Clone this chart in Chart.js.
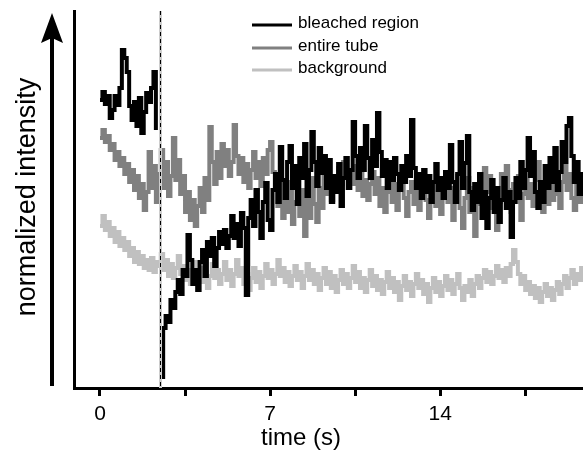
<!DOCTYPE html>
<html><head><meta charset="utf-8">
<script src="https://cdn.jsdelivr.net/npm/chart.js@4/dist/chart.umd.min.js"></script>
<style>html,body{margin:0;padding:0;background:#fff}#wrap{width:583px;height:452px;position:relative}</style>
</head><body><div id="wrap"><canvas id="c" width="583" height="452"></canvas></div>
<script>
// ---- data ----
const sampleInterval = 0.1;           // s between frames
const bleachTime = 2.45;              // s, dashed marker
const xTicks = [0, 3.5, 7, 10.5, 14, 17.5];
const labeledTicks = [0, 7, 14];
const seriesNames = ['bleached region', 'entire tube', 'background'];
const seriesColors = ['#000000', '#808080', '#c0c0c0'];
const xTitle = 'time (s)';
const yTitle = 'normalized intensity';

const bleached = [
  288,296,284,292,270,278,292,283,300,338,
  330,316,282,268,286,262,290,255,276,295,
  286,300,316,258,null,11,60,72,66,88,
  80,96,108,94,118,112,153,128,104,118,
  98,126,138,112,146,132,150,122,140,156,
  144,158,140,152,172,150,164,142,175,160,
  93,170,188,162,198,176,150,186,205,168,
  158,198,214,186,241,208,190,226,242,200,
  222,184,230,210,244,192,218,256,226,202,
  240,215,232,200,228,186,212,196,224,182,
  210,230,200,218,266,232,210,240,218,262,
  230,210,248,222,275,236,212,228,200,226,
  208,230,214,198,222,206,232,212,268,220,
  200,214,190,218,196,212,186,206,224,198,
  210,190,216,200,243,206,186,214,246,200,
  225,252,196,178,204,186,214,170,196,160,
  190,208,176,200,166,188,210,180,196,151,
  186,210,190,226,200,218,250,212,236,196,
  180,206,186,222,200,230,206,240,198,216,
  246,226,262,270,232,206,226,194,214,200
];
const entireTube = [
  250,258,246,252,238,244,228,236,222,230,
  214,224,206,218,198,212,190,204,178,196,
  236,200,222,186,214,238,200,226,192,212,
  250,208,228,194,212,176,196,168,188,162,
  182,200,176,210,188,261,226,204,236,210,
  244,222,238,212,226,263,232,214,230,206,
  224,200,218,236,210,226,202,230,214,238,
  246,216,200,182,204,170,196,176,206,164,
  186,208,172,198,152,190,170,210,184,166,
  200,180,214,194,206,188,212,198,220,204,
  226,210,200,218,204,222,198,214,192,208,
  188,204,216,194,210,182,200,176,196,212,
  186,204,178,198,214,190,172,196,206,184,
  200,178,194,212,188,170,192,206,182,198,
  174,190,208,186,200,168,192,212,180,160,
  190,210,176,200,152,184,206,188,220,196,
  212,180,200,158,186,214,192,222,198,176,
  204,186,212,168,194,218,190,204,182,208,
  226,196,176,200,184,210,188,212,194,180,
  206,222,198,214,190,178,204,186,210,196
];
const background = [
  162,172,158,166,152,160,146,156,142,150,
  138,146,132,140,126,136,124,132,120,128,
  118,130,116,126,122,134,118,128,112,124,
  110,120,132,114,122,108,118,104,116,126,
  112,120,106,116,100,112,124,110,118,104,
  114,126,108,118,102,114,128,112,120,104,
  114,98,110,120,106,116,100,112,124,110,
  118,104,114,128,112,120,106,116,102,112,
  122,108,116,100,112,124,108,118,104,114,
  98,110,120,104,116,100,112,96,108,118,
  104,114,100,110,122,106,116,100,110,96,
  108,118,102,112,98,108,94,106,116,100,
  110,96,106,88,102,112,98,106,92,104,
  114,100,108,94,104,86,100,110,96,106,
  92,102,112,98,108,94,104,114,100,88,
  102,96,108,92,104,112,100,110,118,106,
  116,104,112,122,110,118,106,120,112,124,
  138,126,114,104,112,98,106,94,102,90,
  100,86,96,104,92,100,88,98,106,94,
  104,112,100,110,118,104,114,108,120,110
];

// ---- build ----
const toPoints = arr => arr.map((v, i) => ({ x: i * sampleInterval, y: v }));
const seriesValues = [bleached, entireTube, background];
const FONT = '"Liberation Sans", Arial, sans-serif';

const datasets = seriesValues.map((vals, k) => ({
  label: seriesNames[k],
  data: toPoints(vals),
  borderColor: seriesColors[k],
  backgroundColor: seriesColors[k],
  borderWidth: 4,
  pointRadius: 0,
  stepped: true,
  spanGaps: false,
  order: k,
  borderJoinStyle: 'miter',
  borderCapStyle: 'butt'
}));

const decor = {
  id: 'decor',
  afterDatasetsDraw(chart) {
    const ctx = chart.ctx, xs = chart.scales.x, a = chart.chartArea;
    const px = Math.round(xs.getPixelForValue(bleachTime)) + 0.5;
    ctx.save();
    ctx.strokeStyle = '#cccccc'; ctx.lineWidth = 3;
    ctx.beginPath(); ctx.moveTo(px, a.top); ctx.lineTo(px, a.bottom); ctx.stroke();
    ctx.strokeStyle = '#000'; ctx.lineWidth = 1; ctx.setLineDash([4, 3]);
    ctx.beginPath(); ctx.moveTo(px, a.top); ctx.lineTo(px, a.bottom); ctx.stroke();
    ctx.restore();
  },
  afterDraw(chart) {
    const ctx = chart.ctx;
    ctx.save();
    // y arrow
    ctx.fillStyle = '#000';
    ctx.fillRect(50, 36, 4, 350);
    ctx.beginPath(); ctx.moveTo(52, 13); ctx.lineTo(63, 43); ctx.lineTo(52, 38); ctx.lineTo(41, 43); ctx.closePath(); ctx.fill();
    // y title
    ctx.save();
    ctx.translate(35, 197); ctx.rotate(-Math.PI / 2);
    ctx.font = '27px ' + FONT; ctx.textAlign = 'center'; ctx.textBaseline = 'alphabetic';
    ctx.fillText(yTitle, 0, 0);
    ctx.restore();
    // x title
    ctx.font = '24px ' + FONT; ctx.textAlign = 'center'; ctx.textBaseline = 'alphabetic';
    ctx.fillText(xTitle, 301, 445);
    // legend
    const ys = [25, 48, 70];
    ctx.font = '17px ' + FONT; ctx.textAlign = 'left'; ctx.textBaseline = 'middle';
    chart.data.datasets.forEach((d, k) => {
      ctx.fillStyle = d.borderColor;
      ctx.fillRect(252, ys[k] - 1.5, 40, 3);
      ctx.fillStyle = '#000';
      ctx.fillText(d.label, 298, ys[k] - 2);
    });
    ctx.restore();
  }
};

new Chart(document.getElementById('c'), {
  type: 'line',
  data: { datasets },
  options: {
    responsive: false,
    animation: false,
    devicePixelRatio: 1,
    layout: { padding: { left: 74, top: 11, right: 0, bottom: 0 } },
    plugins: { legend: { display: false }, tooltip: { enabled: false } },
    scales: {
      x: {
        type: 'linear', min: -1.07, max: 19.88,
        afterBuildTicks: s => { s.ticks = xTicks.map(v => ({ value: v })); },
        afterFit: s => { s.height = 64; },
        grid: { display: true, drawOnChartArea: false, drawTicks: true, tickLength: 8, lineWidth: 3, color: '#000' },
        border: { display: true, width: 3, color: '#000' },
        ticks: {
          color: '#000', font: { family: FONT, size: 21 }, padding: 6, maxRotation: 0, autoSkip: false,
          callback: v => labeledTicks.includes(v) ? String(v) : ''
        },
        title: { display: false }
      },
      y: {
        min: 0, max: 377,
        afterFit: s => { s.width = 0; },
        grid: { display: false, drawTicks: false },
        border: { display: true, width: 3, color: '#000' },
        ticks: { display: false }
      }
    }
  },
  plugins: [decor]
});
</script>
</body></html>
